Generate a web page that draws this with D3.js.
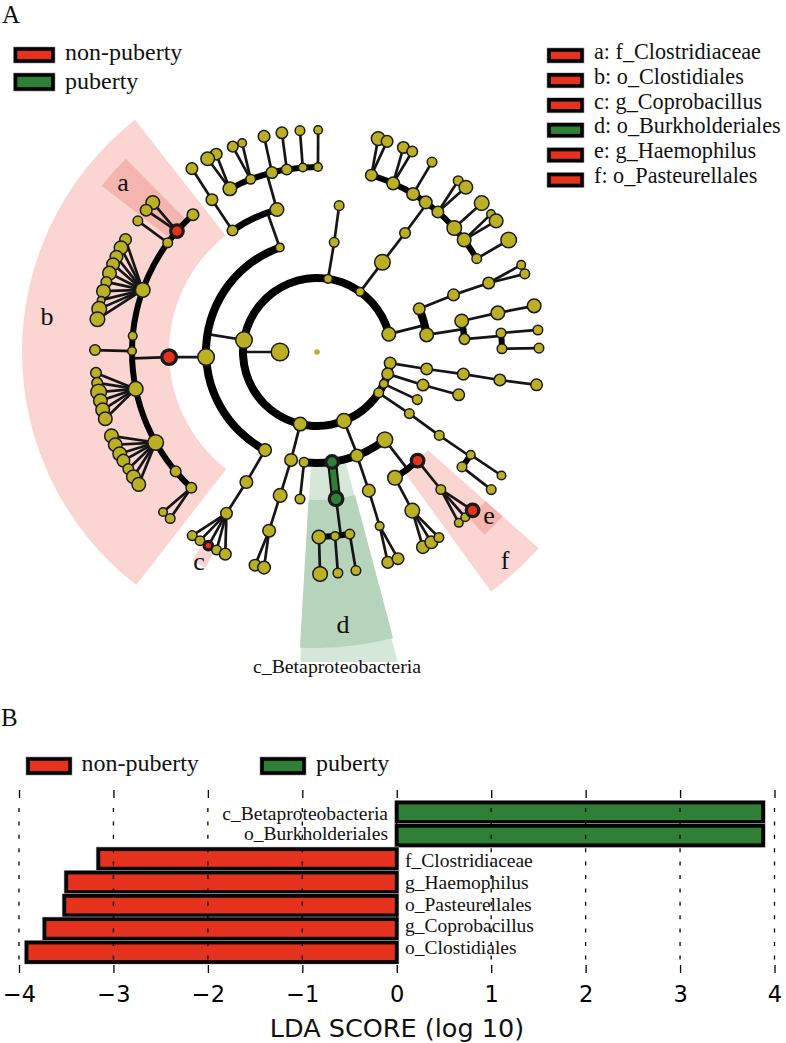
<!DOCTYPE html>
<html><head><meta charset="utf-8">
<script src="https://cdn.jsdelivr.net/npm/d3@7/dist/d3.min.js"></script>
<style>html,body{margin:0;padding:0;background:#fff}svg{display:block}</style>
</head><body><svg id="c" width="786" height="1043"></svg>
<script>
// ---------- Panel A: cladogram: [id, parent, level, angle (deg clockwise from top), size]
const rootNode = ["root", null, 0, 0, 2.5];
const levelOneNodes = [["L1","root",1,270,8.5]];
const levelTwoNodes = [
 ["A","L1",2,279.3,8],["B","L1",2,8.6,4],["C","L1",2,35.6,4],["D","L1",2,76,6.5],["E","L1",2,98.6,5.5],
 ["F","L1",2,107.2,5.5],["G","L1",2,115.5,4],["H","L1",2,123.5,4.5],["I","L1",2,158.6,7],["J","L1",2,193.1,6.5]];
const branchA = [
 ["A0","A",3,340.4,4],["A1","A",3,267.4,8],["A2","A",3,207.9,6],
 ["A0a","A0",4,344.3,6.5],["A0b","A0",4,325.2,5],
 ["p1","A0a",5,0.3,4],["p2","A0a",5,355.6,4],["p3","A0a",5,350.6,5],["p4","A0a",5,345.9,5.5],["p5","A0a",5,339,4.5],["p6","A0a",5,331.9,6.5],
 ["p1a","p1",6,0.3,4],["p2a","p2",6,355.6,4.5],["p3a","p3",6,350.9,5.5],["p4a","p4",6,346.2,5.5],
 ["p5a","p5",6,340.3,4],["p5b","p5",6,337.7,5],["p6a","p6",6,333,5.5],["p6b","p6",6,330.5,6.5],
 ["q1","A0b",5,325.4,5.5],["q1a","q1",6,325.7,5.5],
 ["bOrder","A1",4,268,7],
 ["c1","bOrder",5,270.3,4],["c2","bOrder",5,275,4],["c3","bOrder",5,289.6,7],["c4","bOrder",5,306.2,4.5],["aFam","bOrder",5,310.8,6],["c6","bOrder",5,317.9,5.5],
 ["c7","bOrder",5,258.5,7],["c8","bOrder",5,240.7,7.5],["c9","bOrder",5,229.8,5],["c10","bOrder",5,222.8,5],
 ["c4a","c4",6,306.2,4.5],["a1","aFam",6,312.3,6.5],["a2","aFam",6,309.7,5.5],["c1a","c1",6,270.5,5],
 ["d1","c3",6,300.4,5.5],["d2","c3",6,298,6.5],["d3","c3",6,295.4,6],["d4","c3",6,293.3,6],["d5","c3",6,290.8,6.5],
 ["d6","c3",6,288.4,5],["d7","c3",6,285.9,6.5],["d8","c3",6,283.5,3.5],["d9","c3",6,281.2,7],["d10","c3",6,278.5,7],
 ["e1","c7",6,264.6,5],["e2","c7",6,262,5],["e3","c7",6,259.6,7.5],["e4","c7",6,257.3,6.5],["e5","c7",6,254.9,6.5],["e6","c7",6,252.5,6.5],
 ["f1","c8",6,247.8,6.5],["f2","c8",6,245.3,6.5],["f3","c8",6,242.7,6.5],["f4","c8",6,240.7,6],["f5","c8",6,238.2,5],["f6","c8",6,235.8,6.5],["f7","c8",6,233.4,6.5],
 ["g1","c10",6,223.9,4],["g2","c10",6,221.4,4.5],
 ["h1","A2",4,208.5,6],["h2","h1",5,209.3,5.5],
 ["h3","h2",6,214.2,4.5],["h4","h2",6,211.8,4.5],["cGen","h2",6,209.3,4],["h6","h2",6,206.9,4.5],["h7","h2",6,204.4,5.5]];
const branchJ = [
 ["j1","J",3,193.5,6],["j2","j1",4,194.4,6.5],["j3","j2",5,195,6],["j4","j3",6,196.2,5.5],["j5","j3",6,193.8,6]];
const branchI = [
 ["i1","I",3,186.7,4.5],["betaC","I",3,172.2,6],["i3","I",3,158.9,6],["i4","I",3,142.3,7.5],
 ["i1a","i1",4,186.6,4.5],["dOrd","betaC",4,172.6,6.5],
 ["k1","dOrd",5,179.4,6.5],["k2","dOrd",5,174.4,4],["k3","dOrd",5,169.8,4.5],
 ["k1a","k1",6,179.2,7],["k2a","k2",6,174.6,4.5],["k3a","k3",6,169.9,4.5],
 ["m1","i3",4,159.5,6],["m2","m1",5,160.2,4],["m3","m2",6,161.4,5.5],["m4","m2",6,158.6,5.5],
 ["n1","i4",4,148.2,7],["fOrd","i4",4,137.2,6],
 ["n2","n1",5,149,7],["n3","n2",6,151.5,6],["n4","n2",6,149,6],["n5","n2",6,146.7,4.5],
 ["n6","fOrd",5,138,4.5],["n7","n6",6,140.3,4],["n8","n6",6,138.1,4],["eGen","n6",6,135.5,6]];
const branchRight = [
 ["H1","H",3,123.7,4.5],["H2","H1",4,124.3,4.5],["H3","H2",5,123.8,4],["H4","H2",5,128.4,4.5],["H5","H3",6,123.8,4],["H6","H4",6,128.3,4.5],
 ["G1","G",3,115.4,4.5],["F1","F",3,107.3,5.5],["F2","F1",4,106.8,5.5],
 ["E1","E",3,98.8,5.5],["E2","E1",4,98.6,5.5],["E3","E2",5,98.7,5.5],["E4","E3",6,98.5,5.5],
 ["D1","D",3,81.1,6.5],["D2","D",3,67.1,5.5],
 ["D3","D1",4,77.9,6.5],["D4","D1",4,85,5],["D5","D3",5,77.8,6.5],["D6","D5",6,78,6.5],
 ["D7","D4",5,84.1,4.5],["D8","D4",5,89,4.5],["D9","D7",6,84.3,4.5],["D10","D8",6,89,4.5],
 ["D11","D2",4,67.3,5.5],["D12","D11",5,68.1,5.5],["D13","D12",6,66.9,4],["D14","D12",6,69.4,4.5],
 ["C1","C",3,36.1,7.5],["C2","C1",4,36.5,5],
 ["r1","C2",5,17.1,5.5],["r2","C2",5,24.3,6],["r3","C2",5,31.3,6],["r4","C2",5,36,6],["r5","C2",5,40.8,5.5],["r6","C2",5,47.9,7],["r7","C2",5,52.7,6.5],["r8","C2",5,59.7,4.5],
 ["s1","r1",6,16,6.5],["s2","r1",6,18.4,5.5],["s3","r2",6,22.9,5.5],["s4","r2",6,25.4,5],["s5","r3",6,31.2,4.5],
 ["s6","r5",6,39.5,4.5],["s7","r5",6,42.1,6.5],["s8","r6",6,47.9,7],["s9","r7",6,51.6,4],["s10","r7",6,53.8,6.5],["s11","r8",6,59.7,7.5],
 ["B1","B",3,8.9,4.5],["B2","B1",4,8.6,4.5]];
const nonPubertyClades = ["bOrder","aFam","cGen","fOrd","eGen"];
const pubertyClades = ["betaC","dOrd"];
// highlighted sectors: [radius in, radius out, angle start, angle end, class]
const sectors = [
 [148,295,217.8,321.9,"n"],[188,272,307.7,315.3,"N"],[224,243,207.3,210.8,"n"],
 [115,320,165.4,183.1,"p"],[148,296,165.1,183.3,"P"],
 [148,296,131.5,144,"n"],[225,248,131.5,137.5,"N"]];
const sectorLetters = ["a","b","c","d","e","f"];
const legendLeft = ["non-puberty","puberty"];
const legendRight = ["a: f_Clostridiaceae","b: o_Clostidiales","c: g_Coprobacillus","d: o_Burkholderiales","e: g_Haemophilus","f: o_Pasteurellales"];
const legendRightClass = ["n","n","n","p","n","n"];
// ---------- Panel B
const ldaTaxa = ["c_Betaproteobacteria","o_Burkholderiales","f_Clostridiaceae","g_Haemophilus","o_Pasteurellales","g_Coprobacillus","o_Clostidiales"];
const ldaScores = [3.88,3.88,-3.16,-3.5,-3.52,-3.73,-3.92];
const ldaTicks = [-4,-3,-2,-1,0,1,2,3,4];

const RED="#e5321f", GREEN="#2f7f36", OLIVE="#bbb024";
const SERIF="'Liberation Serif',serif", SANS="'DejaVu Sans',sans-serif";
const svg=d3.select("#c");
const deg=Math.PI/180;
const cx=317, cy=352;
const rScale=d3.scaleLinear().domain([0,6]).range([0,222]);
const sizeScale=d3.scaleLinear().domain([0,10]).range([0.3,10.3]);
const rows=[rootNode,...levelOneNodes,...levelTwoNodes,...branchA,...branchJ,...branchI,...branchRight];
const root=d3.stratify().id(d=>d[0]).parentId(d=>d[1])(rows);
root.descendants().forEach(n=>{
  n.lv=n.data[2]; n.size=n.data[4]; n.angle=n.data[3];
  if(n.parent && n.parent.parent){
    while(n.angle-n.parent.angle>180) n.angle-=360;
    while(n.angle-n.parent.angle<-180) n.angle+=360;
  }
});
const px=(lv,a)=>cx+rScale(lv)*Math.sin(a*deg), py=(lv,a)=>cy-rScale(lv)*Math.cos(a*deg);
const panelA=svg.append("g");
const arc=d3.arc();
const secFill={n:"#fad5d1",N:"#f5b5af",p:"#d5e7d8",P:"#b6d3bb"};
panelA.selectAll("path.sec").data(sectors).join("path").attr("class","sec")
 .attr("transform",`translate(${cx},${cy})`)
 .attr("d",d=>arc({innerRadius:d[0],outerRadius:d[1],startAngle:d[2]*deg,endAngle:d[3]*deg}))
 .attr("fill",d=>secFill[d[4]]);
panelA.append("rect").attr("x",240).attr("y",662).attr("width",190).attr("height",24).attr("fill","#fff");

const arcW={2:8,3:8,4:6.5,5:6};
const LINE=2.7;
const edges=panelA.append("g"), nodesG=panelA.append("g");
root.descendants().forEach(n=>{
  if(!n.children || n.lv===0) return;
  const ch=n.children, lv=n.lv+1;
  if(pubertyClades.includes(n.id) && ch.length===1 && pubertyClades.includes(ch[0].id)){
    [[10,"#0a0a0a"],[6,GREEN]].forEach(([w,c])=>edges.append("line")
      .attr("x1",px(n.lv,n.angle)).attr("y1",py(n.lv,n.angle)).attr("x2",px(lv,ch[0].angle)).attr("y2",py(lv,ch[0].angle))
      .attr("stroke",c).attr("stroke-width",w));
    return;
  }
  if(ch.length===1 || lv===6){
    ch.forEach(c=>edges.append("line").attr("x1",px(n.lv,n.angle)).attr("y1",py(n.lv,n.angle))
      .attr("x2",px(lv,c.angle)).attr("y2",py(lv,c.angle)).attr("stroke","#151515").attr("stroke-width",LINE));
    return;
  }
  edges.append("line").attr("x1",px(n.lv,n.angle)).attr("y1",py(n.lv,n.angle))
    .attr("x2",px(lv,n.angle)).attr("y2",py(lv,n.angle)).attr("stroke","#151515").attr("stroke-width",LINE);
  const as=ch.map(c=>c.angle);
  edges.append("path").attr("transform",`translate(${cx},${cy})`)
    .attr("d",arc({innerRadius:rScale(lv)-arcW[lv]/2,outerRadius:rScale(lv)+arcW[lv]/2,startAngle:d3.min(as)*deg,endAngle:d3.max(as)*deg}))
    .attr("fill","#000");
});
nodesG.selectAll("circle").data(root.descendants()).join("circle")
 .attr("cx",d=>px(d.lv,d.angle)).attr("cy",d=>py(d.lv,d.angle)).attr("r",d=>sizeScale(d.size))
 .attr("fill",d=>nonPubertyClades.includes(d.id)?RED:pubertyClades.includes(d.id)?GREEN:OLIVE)
 .attr("stroke",d=>d.lv===0?"none":"#1a1a1a")
 .attr("stroke-width",d=>nonPubertyClades.includes(d.id)||pubertyClades.includes(d.id)?3.2:1.5);

function addText(s,x,y,size,anchor,fam){
  return svg.append("text").text(s).attr("x",x).attr("y",y).attr("font-size",size)
   .attr("font-family",fam||SERIF).attr("text-anchor",anchor||"start").attr("fill","#111");
}
function swatch(x,y,w,h,cls){
  svg.append("rect").attr("x",x).attr("y",y).attr("width",w).attr("height",h).attr("fill",cls==="n"?RED:GREEN)
    .attr("stroke","#bbb").attr("stroke-width",5);
  svg.append("rect").attr("x",x).attr("y",y).attr("width",w).attr("height",h).attr("fill",cls==="n"?RED:GREEN)
    .attr("stroke","#000").attr("stroke-width",3.6);
}
const letterPos=[[123,191],[47,325],[199,570],[343,633],[489,524],[505,569]];
sectorLetters.forEach((s,i)=>addText(s,letterPos[i][0],letterPos[i][1],26,"middle"));
addText("c_Betaproteobacteria",337,673,19.8,"middle");
addText("A",2,23,25);
addText("B",1,726,25);
legendLeft.forEach((s,i)=>{ swatch(15.5,i?75:49,37.5,i?14:12,i?"p":"n"); addText(s,65,i?89:60,24); });
legendRight.forEach((s,i)=>{ swatch(549,50+i*24.9,33,11,legendRightClass[i]); addText(s,594,59+i*24.8,22.2); });

// ---- Panel B
const xB=d3.scaleLinear().domain([-4,4]).range([19,774.5]);
const yB=d3.scaleBand().domain(ldaTaxa).range([801.5,963]).paddingInner(0.08).paddingOuter(0);
[[26,"n"],[260,"p"]].forEach(([sx,c],i)=>{ swatch(sx+2,759,42,14,c); addText(legendLeft[i],sx+(i?56:55.5),771,24); });
const bars=svg.append("g");
ldaTaxa.forEach((t,i)=>{
  const v=ldaScores[i], x0=xB(Math.min(0,v)), w=Math.abs(xB(v)-xB(0));
  [[5,"#c4c4c4"],[3.8,"#050505"]].forEach(([sw,st])=>bars.append("rect").attr("x",x0).attr("y",yB(t)+1).attr("width",w).attr("height",yB.bandwidth()-2)
    .attr("fill",v<0?RED:GREEN).attr("stroke",st).attr("stroke-width",sw));
});
svg.append("g").selectAll("line").data(ldaTicks).join("line")
 .attr("x1",d=>xB(d)).attr("x2",d=>xB(d)).attr("y1",808).attr("y2",961)
 .attr("stroke","#000").attr("stroke-width",1.3).attr("stroke-dasharray","4 9.4");
const labY=[820,840,867,888.5,910.5,932,954];
ldaTaxa.forEach((t,i)=>{ ldaScores[i]>0 ? addText(t,388,labY[i],19.5,"end") : addText(t,405,labY[i],19.5,"start"); });
const axisT=svg.append("g").attr("transform","translate(0,790)").call(d3.axisTop(xB).tickValues(ldaTicks).tickSize(-8).tickFormat(""));
const axisB=svg.append("g").attr("transform","translate(0,973)").call(d3.axisBottom(xB).tickValues(ldaTicks).tickSize(-8).tickFormat(d=>d<0?"\u2212"+(-d):d));
[axisT,axisB].forEach(g=>{ g.select(".domain").remove(); g.selectAll(".tick line").attr("stroke","#000").attr("stroke-width",1.3); });
axisB.selectAll("text").attr("font-family",SANS).attr("font-size",22.5).attr("fill","#000").attr("y",29).attr("dy",0);
addText("LDA SCORE (log 10)",397,1037,25.5,"middle",SANS);
</script></body></html>
